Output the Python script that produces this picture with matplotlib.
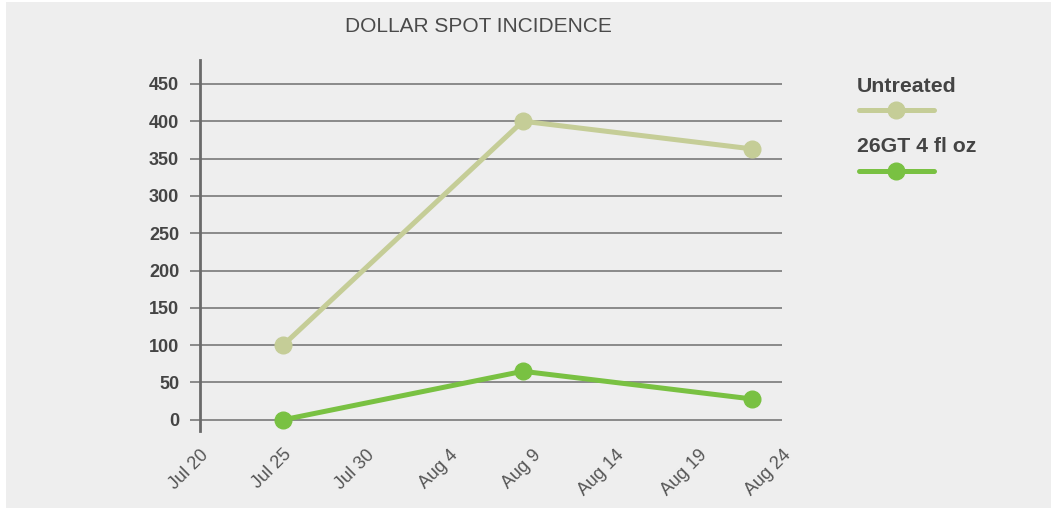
import matplotlib
matplotlib.use("Agg")
import matplotlib.pyplot as plt
import matplotlib.dates as mdates
from matplotlib.lines import Line2D
from matplotlib.patches import Rectangle
import pandas as pd

# data
dates = pd.to_datetime(["2019-07-25 00:00", "2019-08-08 10:00", "2019-08-22 04:00"])
untreated = [100, 400, 363]
treated = [0, 65, 28]
series_names = ["Untreated", "26GT 4 fl oz"]
series_colors = ["#c5cd97", "#79c142"]
y_ticks = [0, 50, 100, 150, 200, 250, 300, 350, 400, 450]
x_tick_dates = pd.date_range("2019-07-20", "2019-08-24", freq="5D")

plt.rcParams['font.family'] = ['Liberation Sans', 'DejaVu Sans']

fig = plt.figure(figsize=(10.51, 5.08), dpi=100)
fig.patch.set_facecolor("white")
fig.add_artist(Rectangle((6 / 1051, 0), 1, 1 - 2 / 508, transform=fig.transFigure,
                         facecolor="#eeeeee", edgecolor="none", zorder=-10))

ax = fig.add_axes([200 / 1051, 1 - 431 / 508, 582 / 1051, 371 / 508])
ax.set_facecolor("none")

for vals, color in zip([untreated, treated], series_colors):
    ax.plot(dates, vals, color=color, lw=3.6, marker="o", markersize=12,
            solid_capstyle="round", zorder=3, clip_on=False)

ax.set_xlim(x_tick_dates[0], x_tick_dates[-1])
ax.set_ylim(-15, 482)
ax.set_yticks(y_ticks)
ax.set_xticks(x_tick_dates)
ax.xaxis.set_major_formatter(mdates.DateFormatter("%b %-d"))

ax.grid(axis="y", color="#8a8a8a", lw=1.4, zorder=1)
for s in ["top", "right", "bottom"]:
    ax.spines[s].set_visible(False)
ax.spines["left"].set_color("#6a6a6a")
ax.spines["left"].set_linewidth(2)

ax.tick_params(axis="y", length=7, width=1.4, color="#8a8a8a", pad=8,
               labelsize=13, labelcolor="#444444")
for lab in ax.get_yticklabels():
    lab.set_fontweight("bold")
ax.tick_params(axis="x", length=0, pad=11, labelsize=13, labelcolor="#555555")
for lab in ax.get_xticklabels():
    lab.set_rotation(45)
    lab.set_ha("right")
    lab.set_rotation_mode("anchor")

fig.text(478 / 1051, 1 - 27 / 508, "DOLLAR SPOT INCIDENCE", ha="center", va="center",
         fontsize=15, color="#4a4a4a")

# legend: label above a line handle
leg_y = [86, 147]
for name, color, y in zip(series_names, series_colors, leg_y):
    fig.text(857 / 1051, 1 - y / 508, name, ha="left", va="center", fontsize=15.3,
             fontweight="bold", color="#444444")
    ly = 1 - (y + 24) / 508
    fig.add_artist(Line2D([859 / 1051, 934 / 1051], [ly, ly], transform=fig.transFigure,
                          color=color, lw=3.6, solid_capstyle="round"))
    fig.add_artist(Line2D([896 / 1051], [ly], transform=fig.transFigure,
                          color=color, marker="o", markersize=12))

fig.savefig("out.png", dpi=100, facecolor=fig.get_facecolor())
